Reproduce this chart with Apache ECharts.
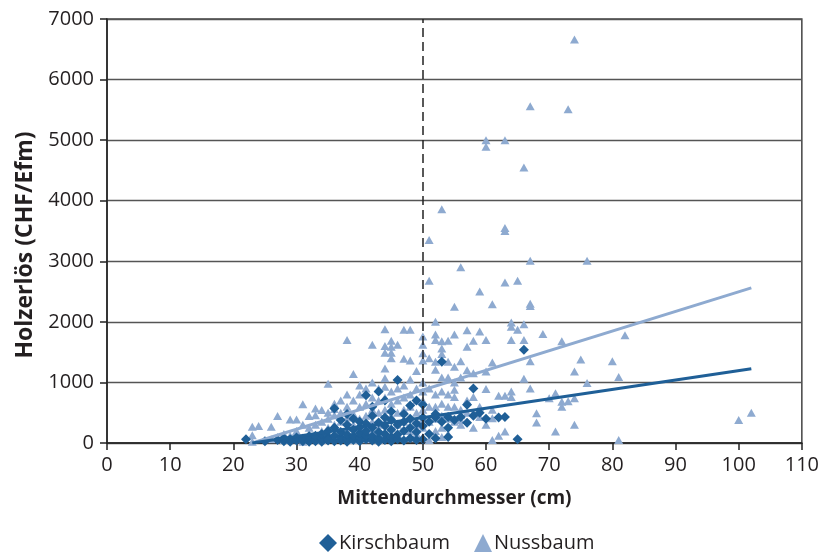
<!DOCTYPE html>
<html>
<head>
<meta charset="utf-8">
<script src="https://cdn.jsdelivr.net/npm/echarts@6/dist/echarts.min.js"></script>
<style>
html,body{margin:0;padding:0;background:#fff;}
#chart{width:822px;height:558px;}
</style>
</head>
<body>
<div id="chart"></div>
<script>
// ---- data ----
var xTicks = [0,10,20,30,40,50,60,70,80,90,100,110];
var yTicks = [0,1000,2000,3000,4000,5000,6000,7000];
var seriesNames = ['Kirschbaum','Nussbaum'];
var refLineX = 50;

var kirschData = [
[22,60],[25,30],[27,50],[28,30],[28,80],[29,20],[29,60],[30,40],[30,90],[31,30],[31,70],
[32,20],[32,50],[32,110],[33,30],[33,60],[33,120],[34,20],[34,80],[34,150],[35,40],[35,100],
[35,200],[35,60],[36,30],[36,120],[36,250],[36,570],[37,40],[37,90],[37,180],[37,380],[38,20],
[38,70],[38,140],[38,300],[38,480],[39,50],[39,110],[39,220],[39,400],[40,30],[40,90],[40,160],
[40,260],[40,350],[41,60],[41,130],[41,200],[41,320],[41,790],[42,40],[42,110],[42,250],[42,450],
[42,600],[43,20],[43,80],[43,180],[43,340],[43,850],[44,50],[44,150],[44,280],[44,420],[44,700],
[45,30],[45,100],[45,220],[45,380],[45,520],[46,60],[46,140],[46,300],[46,1040],[47,40],[47,200],
[47,350],[47,480],[48,80],[48,250],[48,400],[48,620],[49,50],[49,180],[49,320],[49,700],[50,60],
[50,280],[50,420],[50,630],[51,150],[51,350],[52,80],[52,420],[52,480],[53,350],[53,1340],[54,100],
[54,250],[54,430],[56,430],[55,380],[57,630],[57,335],[58,900],[58,450],[59,500],[60,400],
[62,420],[65,60],[66,1540],[63,430]
];

var nussData = [
[23,20],[23,270],[23,130],[24,280],[26,270],[26,60],[27,445],[27,100],[28,50],[28,150],
[29,390],[29,120],[30,390],[30,60],[30,200],[31,640],[31,20],[31,300],[32,445],[32,150],[32,250],
[33,460],[33,570],[33,100],[33,300],[34,545],[34,200],[34,50],[34,350],[35,980],[35,400],[35,250],
[35,150],[35,500],[36,560],[36,460],[36,300],[36,100],[36,650],[37,700],[37,350],[37,200],[37,80],
[37,500],[38,1700],[38,600],[38,420],[38,250],[38,120],[38,800],[39,1140],[39,700],[39,480],
[39,300],[39,150],[39,50],[40,800],[40,600],[40,400],[40,250],[40,100],[40,950],[41,900],[41,650],
[41,450],[41,300],[41,180],[41,60],[42,1620],[42,1000],[42,750],[42,550],[42,350],[42,200],[42,80],
[43,900],[43,700],[43,500],[43,300],[43,150],[43,50],[44,1880],[44,1600],[44,1490],[44,1230],
[44,1070],[44,930],[44,750],[44,550],[44,350],[44,150],[45,1690],[45,1590],[45,1490],[45,1400],
[45,850],[45,650],[45,450],[45,250],[45,100],[46,1620],[46,900],[46,700],[46,500],[46,300],[46,150],
[47,1870],[47,1390],[47,950],[47,750],[47,550],[47,350],[47,200],[48,1870],[48,1360],[48,1050],
[48,800],[48,600],[48,400],[48,200],[48,80],[49,1190],[49,900],[49,700],[49,500],[49,300],[49,150],
[50,1760],[50,1620],[50,1480],[50,1360],[50,1000],[50,850],[50,700],[50,550],[50,400],[50,250],
[50,100],[51,3350],[51,2680],[51,1400],[51,900],[51,600],[51,350],[51,50],[52,2000],[52,1790],
[52,1700],[52,1340],[52,1210],[52,800],[52,600],[52,400],[52,200],[53,3860],[53,1680],[53,1560],
[53,1470],[53,1080],[53,850],[53,650],[53,450],[53,250],[53,100],[54,1690],[54,1340],[54,1080],
[54,800],[54,600],[54,400],[54,150],[55,2250],[55,1790],[55,1260],[55,1000],[55,880],[55,760],
[55,600],[55,350],[56,2900],[56,1350],[56,1080],[56,550],[56,460],[56,380],[56,300],[57,1860],
[57,1590],[57,1200],[57,700],[57,500],[58,1690],[58,1150],[58,760],[58,500],[58,250],[59,2500],
[59,1840],[59,430],[59,600],[60,5000],[60,4890],[60,1700],[60,1180],[60,890],[60,300],[61,2290],
[61,1330],[61,550],[61,410],[61,50],[62,780],[62,120],[63,5000],[63,3550],[63,3500],[63,2650],
[63,780],[63,190],[64,1990],[64,1920],[64,1700],[64,850],[64,760],[65,2680],[65,1870],[66,4550],
[66,1960],[66,1700],[66,1060],[67,5560],[67,3010],[67,2300],[67,2260],[67,1350],[67,900],[68,490],
[68,340],[69,1800],[70,740],[71,820],[71,190],[72,1680],[72,680],[72,600],[73,5510],[73,690],
[74,6660],[74,1180],[74,740],[74,300],[75,1380],[76,3010],[76,990],[80,1350],[81,1090],[81,50],
[82,1780],[100,380],[102,500]
];

var kirschTrend = [[23,0],[102,1225]];
var nussTrend = [[23,0],[102,2560]];

// ---- chart ----
var chart = echarts.init(document.getElementById('chart'), null, {renderer:'canvas'});
var FONT = 'Open Sans';
var TXT = '#231f20';
var C_K = '#1f5f97';
var C_N = '#8eaad0';

var option = {
  backgroundColor: '#fff',
  animation: false,
  textStyle: {fontFamily: FONT, color: TXT},
  grid: {left:107, right:15, top:19, bottom:115, show:true, borderColor:'#444', borderWidth:1.5},
  legend: {
    data: [
      {name: seriesNames[0], icon: 'diamond'},
      {name: seriesNames[1], icon: 'triangle'}
    ],
    bottom: 0, left: 314,
    itemWidth: 18, itemHeight: 18, itemGap: 24,
    textStyle: {fontFamily: FONT, fontSize: 20, color: TXT, padding:[0,0,0,-3]}
  },
  xAxis: {
    type: 'value', min: xTicks[0], max: xTicks[xTicks.length-1], interval: 10,
    name: 'Mittendurchmesser (cm)', nameLocation: 'middle', nameGap: 46,
    nameTextStyle: {fontFamily: FONT, fontSize: 19, fontWeight: 'bold', color: TXT},
    axisLine: {show: true, onZero: false, lineStyle: {color: '#222', width: 1.5}},
    axisTick: {show: true, length: 7, lineStyle: {color: '#222', width: 1.5}},
    axisLabel: {fontFamily: FONT, fontSize: 20, color: TXT, margin: 12,
      formatter: function(v){ return String(v); }},
    splitLine: {show: false}
  },
  yAxis: {
    type: 'value', min: yTicks[0], max: yTicks[yTicks.length-1], interval: 1000,
    name: 'Holzerlös (CHF/Efm)', nameLocation: 'middle', nameGap: 61,
    nameTextStyle: {fontFamily: FONT, fontSize: 23, fontWeight: 'bold', color: TXT,
      padding: [0, 28, 0, 0]},
    axisLine: {show: true, onZero: false, lineStyle: {color: '#222', width: 1.5}},
    axisTick: {show: true, length: 7, lineStyle: {color: '#222', width: 1.5}},
    axisLabel: {fontFamily: FONT, fontSize: 20, color: TXT, margin: 13,
      formatter: function(v){ return String(v); }},
    splitLine: {show: true, lineStyle: {color: '#555', width: 1.3}}
  },
  series: [
    {
      name: seriesNames[1], type: 'scatter', symbol: 'triangle', symbolSize: [9,8],
      itemStyle: {color: C_N, opacity: 1}, data: nussData, z: 2,
      markLine: {
        silent: true, symbol: 'none', label: {show:false},
        lineStyle: {color: '#222', type: [9,5], width: 1.5},
        data: [{xAxis: refLineX}]
      }
    },
    {
      name: seriesNames[0], type: 'scatter', symbol: 'diamond', symbolSize: 10,
      itemStyle: {color: C_K, opacity: 1}, data: kirschData, z: 3
    },
    {
      name: 'NussTrend', type: 'line', data: nussTrend, showSymbol: false, silent: true,
      lineStyle: {color: C_N, width: 3}, itemStyle:{color:C_N}, z: 4
    },
    {
      name: 'KirschTrend', type: 'line', data: kirschTrend, showSymbol: false, silent: true,
      lineStyle: {color: C_K, width: 3}, itemStyle:{color:C_K}, z: 5
    }
  ]
};
chart.setOption(option);
</script>
</body>
</html>
